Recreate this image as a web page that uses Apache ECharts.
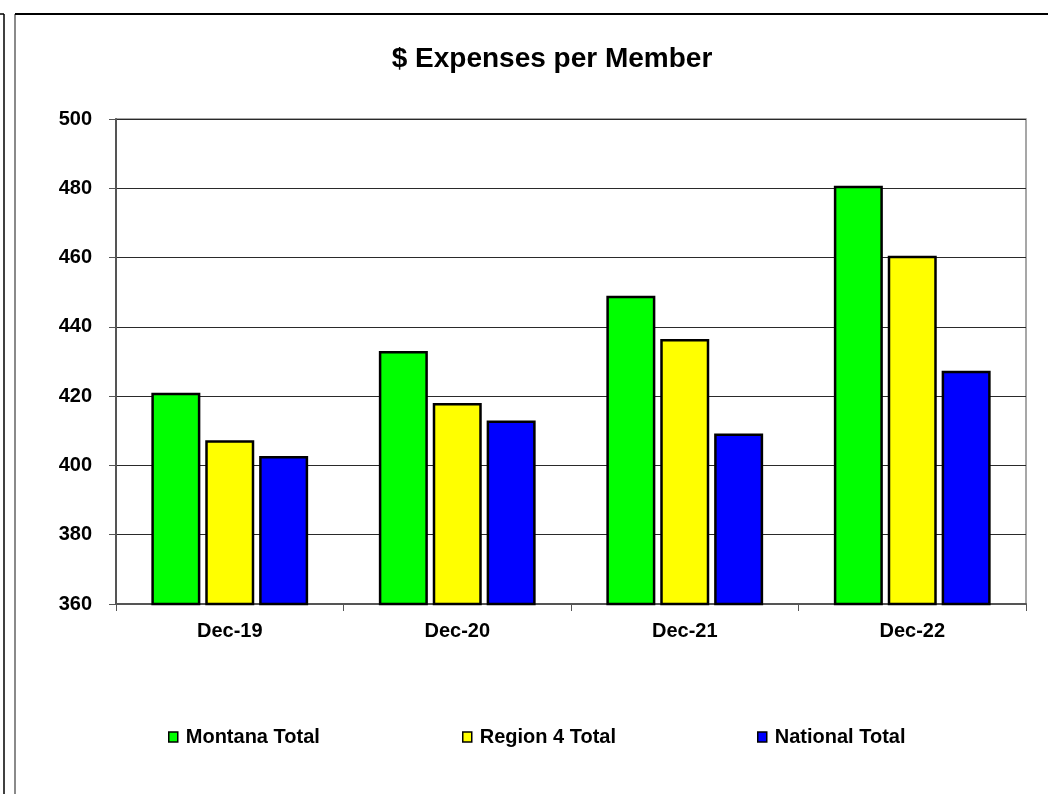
<!DOCTYPE html>
<html>
<head>
<meta charset="utf-8">
<title>$ Expenses per Member</title>
<script src="https://cdn.jsdelivr.net/npm/echarts@6/dist/echarts.min.js"></script>
<style>
  html, body { margin: 0; padding: 0; background: #fff; }
  #chart { width: 1048px; height: 794px; }
</style>
</head>
<body>
<div id="chart"></div>
<script>
// Periods shown on the category axis
const categories = ['Dec-19', 'Dec-20', 'Dec-21', 'Dec-22'];

// Expenses per member, in dollars
const montanaTotal = [421, 433, 449, 480.7];
const region4Total = [407.3, 418, 436.5, 460.5];
const nationalTotal = [402.7, 413, 409.2, 427.3];

// Series names, in legend order
const seriesNames = ['Montana Total', 'Region 4 Total', 'National Total'];

// Value axis range
const yMin = 360;
const yMax = 500;
const yStep = 20;

const FONT = 'Arial, "Liberation Sans", Helvetica, sans-serif';
const LABEL_SIZE = 20;

const chart = echarts.init(document.getElementById('chart'), null, { renderer: 'canvas' });

function barSeries(name, data, color) {
  return {
    name: name,
    type: 'bar',
    data: data,
    barWidth: 49,
    barGap: '10%',
    itemStyle: { color: color, borderColor: '#000', borderWidth: 2.5 },
    emphasis: { disabled: true },
    animation: false
  };
}

// one legend block per series so each entry sits at its own column
function legendAt(name, left) {
  return {
    left: left, top: 722,
    icon: 'rect', itemWidth: 9, itemHeight: 10,
    itemStyle: { borderColor: '#000', borderWidth: 1.5 },
    textStyle: { color: '#000', fontFamily: FONT, fontWeight: 'bold', fontSize: LABEL_SIZE, padding: [0, 0, 0, 3] },
    selectedMode: false,
    data: [name]
  };
}

chart.setOption({
  backgroundColor: '#fff',
  animation: false,
  grid: {
    left: 116, right: 22, top: 119, bottom: 190,
    show: true, borderColor: '#8a8a8a', borderWidth: 1.5, backgroundColor: 'transparent'
  },
  xAxis: {
    type: 'category',
    data: categories,
    axisLine: { lineStyle: { color: '#555', width: 2 } },
    axisTick: { show: true, alignWithLabel: false, length: 7, lineStyle: { color: '#555', width: 1 } },
    axisLabel: { color: '#000', fontFamily: FONT, fontWeight: 'bold', fontSize: LABEL_SIZE, margin: 17 },
    splitLine: { show: false }
  },
  yAxis: {
    type: 'value',
    min: yMin, max: yMax, interval: yStep,
    axisLine: { show: true, lineStyle: { color: '#555', width: 2 } },
    axisTick: { show: true, length: 7, lineStyle: { color: '#555', width: 1 } },
    axisLabel: { color: '#000', fontFamily: FONT, fontWeight: 'bold', fontSize: LABEL_SIZE, margin: 24 },
    splitLine: { show: true, lineStyle: { color: '#2a2a2a', width: 1 } }
  },
  legend: [
    legendAt(seriesNames[0], 163),
    legendAt(seriesNames[1], 457),
    legendAt(seriesNames[2], 752)
  ],
  graphic: [
    // chart frame
    { type: 'line', shape: { x1: 4, y1: 14, x2: 4, y2: 794 }, style: { stroke: '#000', lineWidth: 1.5 }, silent: true },
    { type: 'line', shape: { x1: 0, y1: 14, x2: 4, y2: 14 }, style: { stroke: '#000', lineWidth: 1.5 }, silent: true },
    { type: 'line', shape: { x1: 15, y1: 14, x2: 15, y2: 794 }, style: { stroke: '#8a8a8a', lineWidth: 2 }, silent: true },
    { type: 'line', shape: { x1: 15, y1: 14, x2: 1048, y2: 14 }, style: { stroke: '#000', lineWidth: 2 }, silent: true },
    // title
    {
      type: 'text', x: 552, y: 59, silent: true,
      style: {
        text: '$ Expenses per Member', fill: '#000',
        font: 'bold 28px ' + FONT, align: 'center', verticalAlign: 'middle'
      }
    }
  ],
  series: [
    barSeries(seriesNames[0], montanaTotal, '#00ff00'),
    barSeries(seriesNames[1], region4Total, '#ffff00'),
    barSeries(seriesNames[2], nationalTotal, '#0000ff')
  ]
});
</script>
</body>
</html>
